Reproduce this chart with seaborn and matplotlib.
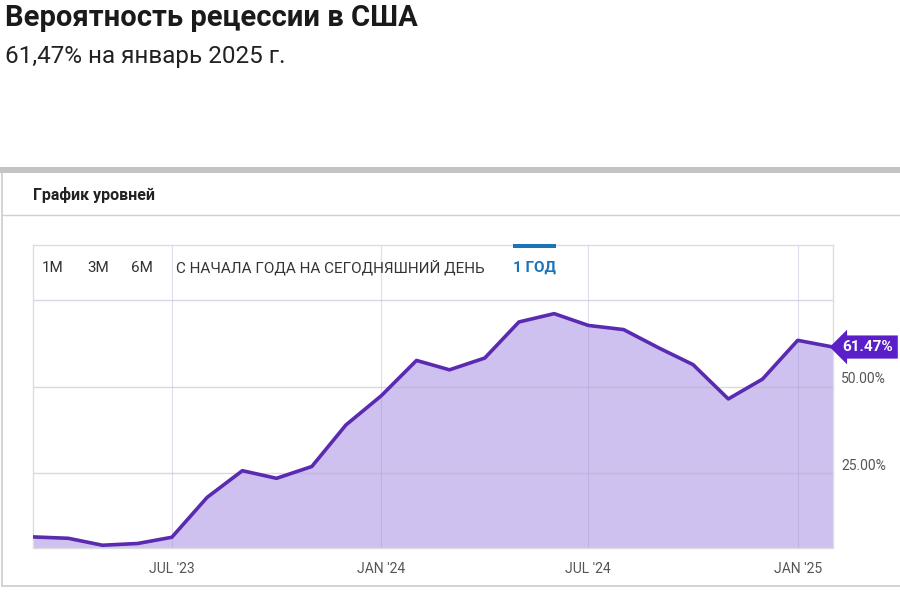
import pandas as pd
import matplotlib.pyplot as plt
import matplotlib.transforms as mtransforms
from matplotlib.patches import Rectangle
from matplotlib.lines import Line2D
import seaborn as sns

# Monthly recession probability (%)
months = ["2023-03", "2023-04", "2023-05", "2023-06", "2023-07", "2023-08",
          "2023-09", "2023-10", "2023-11", "2023-12", "2024-01", "2024-02",
          "2024-03", "2024-04", "2024-05", "2024-06", "2024-07", "2024-08",
          "2024-09", "2024-10", "2024-11", "2024-12", "2025-01", "2025-02"]
probability = [6.7, 6.3, 4.3, 4.8, 6.6, 18.1, 25.8, 23.6, 27.0, 39.0, 47.4, 57.6,
               54.9, 58.3, 68.7, 71.1, 67.7, 66.5, 61.2, 56.4, 46.5, 52.2, 63.4, 61.47]

tick_dates = ["2023-07", "2024-01", "2024-07", "2025-01"]
tick_labels = ["JUL '23", "JAN '24", "JUL '24", "JAN '25"]
y_ticks = [25, 50, 75]
y_labels = ["25.00%", "50.00%", ""]
buttons = ["1M", "3M", "6M", "С НАЧАЛА ГОДА НА СЕГОДНЯШНИЙ ДЕНЬ"]
button_x = [42, 87, 131, 176]

df = pd.DataFrame({"date": pd.to_datetime(months), "value": probability})

sns.set_theme(style="white")
plt.rcParams["font.family"] = ["Roboto", "DejaVu Sans"]

W, H = 900, 600
fig = plt.figure(figsize=(9, 6), dpi=100)
fig.patch.set_facecolor("white")


def fx(px):
    return px / W


def fy(py):
    return 1 - py / H


# header texts
fig.text(fx(5), fy(18), "Вероятность рецессии в США", fontsize=21, fontweight="bold",
         color="#1a1a1a", va="center", ha="left")
fig.text(fx(5), fy(57), "61,47% на январь 2025 г.", fontsize=17.5, color="#222222",
         va="center", ha="left")

# panel frame
fig.add_artist(Rectangle((0, fy(173)), 1, 6 / H, transform=fig.transFigure,
                         facecolor="#c4c4c4", edgecolor="none"))
fig.add_artist(Line2D([fx(2), fx(2)], [fy(173), fy(586)], color="#cccccc", lw=1.2))
fig.add_artist(Line2D([fx(2), 1], [fy(586), fy(586)], color="#cccccc", lw=1.2))
fig.add_artist(Line2D([fx(2), 1], [fy(215), fy(215)], color="#d0d0d0", lw=1))
fig.text(fx(33), fy(195), "График уровней", fontsize=11.5, fontweight="bold",
         color="#222222", va="center", ha="left")

# chart axes (top part holds the button bar)
ax = fig.add_axes([fx(33), fy(548), fx(800), (548 - 245) / H])
ax.set_facecolor("white")

ax.fill_between(df["date"], df["value"], 0, color="#cfc1ef", zorder=1, lw=0)
sns.lineplot(data=df, x="date", y="value", ax=ax, color="#5a2bb0", lw=2.6, zorder=3)

ax.set_xlim(df["date"].iloc[0], df["date"].iloc[-1])
ax.set_ylim(3.5, 90.9)

for t in pd.to_datetime(tick_dates):
    ax.axvline(t, color="#9b8cc9", lw=0.8, alpha=0.3, zorder=2)
for v in y_ticks:
    ax.axhline(v, color="#b0a8c8", lw=1, alpha=0.45, zorder=2)

ax.set_xticks(pd.to_datetime(tick_dates))
ax.set_xticklabels(tick_labels)
ax.tick_params(axis="x", length=0, pad=10, labelsize=10, labelcolor="#555555")

ax.yaxis.tick_right()
ax.set_yticks(y_ticks)
ax.set_yticklabels(y_labels)
ax.tick_params(axis="y", length=0, pad=6, labelsize=10, labelcolor="#555555")
shift = mtransforms.ScaledTranslation(0, 9 / 100, fig.dpi_scale_trans)
for lab in ax.get_yticklabels():
    lab.set_transform(lab.get_transform() + shift)

ax.set_xlabel("")
ax.set_ylabel("")
for side in ["left", "right", "bottom"]:
    ax.spines[side].set_visible(False)
ax.spines["top"].set_color("#dcdcdc")
ax.spines["top"].set_linewidth(1)
ax.plot([0, 0], [0, 1], transform=ax.transAxes, color="#dcdcdc", lw=1, clip_on=False)
ax.plot([1, 1], [0, 1], transform=ax.transAxes, color="#dcdcdc", lw=1, clip_on=False)
ax.plot([0, 1], [0, 0], transform=ax.transAxes, color="#dcdcdc", lw=1, clip_on=False)

# current value tag
trans = mtransforms.blended_transform_factory(ax.transAxes, ax.transData)
ax.text(1.012, probability[-1], "61.47%", transform=trans, ha="left", va="center",
        fontsize=11, fontweight="bold", color="white", clip_on=False, zorder=5,
        bbox=dict(boxstyle="larrow,pad=0.3", fc="#5b1fc9", ec="none"))

# button bar
for label, x in zip(buttons, button_x):
    fig.text(fx(x), fy(268), label, fontsize=11, color="#333333", va="center", ha="left")
fig.text(fx(513), fy(268), "1 ГОД", fontsize=11, fontweight="bold", color="#1a75b8",
         va="center", ha="left")
fig.add_artist(Rectangle((fx(513), fy(248)), fx(43), 4 / H, transform=fig.transFigure,
                         facecolor="#1a75b8", edgecolor="none"))

fig.savefig("out.png", dpi=100, facecolor="white")
